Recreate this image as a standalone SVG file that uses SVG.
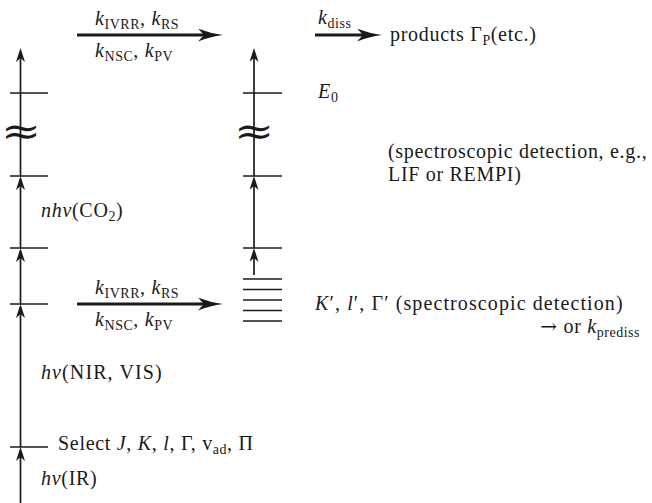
<svg xmlns="http://www.w3.org/2000/svg" width="652" height="503" viewBox="0 0 652 503">
  <style>
    text { font-family: "Liberation Serif", "DejaVu Serif", serif; font-size: 20px; letter-spacing: 0.7px; fill: #1a1a1a; }
    .i { font-style: italic; }
    .sub { font-size: 14px; letter-spacing: 0.5px; }
    .arr { font-family: "DejaVu Serif", serif; }
    .wide { letter-spacing: 1.1px; }
    .level { stroke: #1a1a1a; stroke-width: 1.7; fill: none; }
    .rung { stroke: #1a1a1a; stroke-width: 1.7; fill: none; marker-end: url(#tip); }
    .rate { stroke: #1a1a1a; stroke-width: 3; fill: none; marker-end: url(#bigtip); }
    .gap { font-family: "DejaVu Serif", serif; font-size: 29px; letter-spacing: 0; text-anchor: middle; }
  </style>
  <defs>
    <marker id="tip" viewBox="0 0 14 9" refX="8" refY="4.5" markerWidth="14" markerHeight="9" markerUnits="userSpaceOnUse" orient="auto">
      <path d="M0,0 L14,4.5 L0,9 L4,4.5 Z" fill="#1a1a1a"/>
    </marker>
    <marker id="bigtip" viewBox="0 0 25 13" refX="11" refY="6.5" markerWidth="25" markerHeight="13" markerUnits="userSpaceOnUse" orient="auto">
      <path d="M0,0 Q12,5 25,6.5 Q12,8 0,13 L6,6.5 Z" fill="#1a1a1a"/>
    </marker>
  </defs>

  <!-- left ladder: ground state up through the pumped levels -->
  <g id="left-ladder">
    <line class="level" x1="10" y1="93" x2="48" y2="93"/>
    <line class="level" x1="10" y1="176" x2="48" y2="176"/>
    <line class="level" x1="10" y1="248" x2="48" y2="248"/>
    <line class="level" x1="10" y1="304" x2="48" y2="304"/>
    <line class="level" x1="10" y1="447" x2="48" y2="447"/>
    <text class="gap" transform="translate(21,144) scale(1.65,1.3)">≈</text>
  </g>

  <!-- middle ladder: relaxed states and the dense bath -->
  <g id="mid-ladder">
    <line class="level" x1="243" y1="93" x2="282" y2="93"/>
    <line class="level" x1="243" y1="176" x2="282" y2="176"/>
    <line class="level" x1="243" y1="248" x2="282" y2="248"/>
    <text class="gap" transform="translate(254,144) scale(1.65,1.3)">≈</text>
  </g>

  <g id="bath-levels">
    <line class="level" x1="243" y1="279" x2="282" y2="279"/>
    <line class="level" x1="243" y1="289.5" x2="282" y2="289.5"/>
    <line class="level" x1="243" y1="300" x2="282" y2="300"/>
    <line class="level" x1="243" y1="310.5" x2="282" y2="310.5"/>
    <line class="level" x1="243" y1="321" x2="282" y2="321"/>
  </g>

  <g id="connectors">
    <!-- left vertical excitation steps -->
    <line class="rung" x1="20.5" y1="503" x2="20.5" y2="453"/>
    <line class="rung" x1="20.5" y1="447" x2="20.5" y2="310"/>
    <line class="rung" x1="20.5" y1="304" x2="20.5" y2="254"/>
    <line class="rung" x1="20.5" y1="248" x2="20.5" y2="182"/>
    <line class="rung" x1="20.5" y1="176" x2="20.5" y2="54"/>
    <!-- middle vertical excitation steps -->
    <line class="rung" x1="254" y1="275" x2="254" y2="254"/>
    <line class="rung" x1="254" y1="248" x2="254" y2="182"/>
    <line class="rung" x1="254" y1="176" x2="254" y2="54"/>
    <!-- relaxation and dissociation rates -->
    <line class="rate" x1="77" y1="35" x2="209" y2="35"/>
    <line class="rate" x1="77" y1="304" x2="209" y2="304"/>
    <line class="rate" x1="315" y1="35" x2="368" y2="35"/>
  </g>

  <g id="labels">
    <text x="95" y="25"><tspan class="i">k</tspan><tspan class="sub" dy="4">IVRR</tspan><tspan dy="-4">, </tspan><tspan class="i">k</tspan><tspan class="sub" dy="4">RS</tspan></text>
    <text x="95" y="57"><tspan class="i">k</tspan><tspan class="sub" dy="4">NSC</tspan><tspan dy="-4">, </tspan><tspan class="i">k</tspan><tspan class="sub" dy="4">PV</tspan></text>
    <text x="95" y="294"><tspan class="i">k</tspan><tspan class="sub" dy="4">IVRR</tspan><tspan dy="-4">, </tspan><tspan class="i">k</tspan><tspan class="sub" dy="4">RS</tspan></text>
    <text x="95" y="326"><tspan class="i">k</tspan><tspan class="sub" dy="4">NSC</tspan><tspan dy="-4">, </tspan><tspan class="i">k</tspan><tspan class="sub" dy="4">PV</tspan></text>

    <text x="318" y="24"><tspan class="i">k</tspan><tspan class="sub" dy="4">diss</tspan></text>
    <text x="390" y="41">products Γ<tspan class="sub" dy="4">P</tspan><tspan dy="-4">(etc.)</tspan></text>
    <text x="318" y="98"><tspan class="i">E</tspan><tspan class="sub" dy="4">0</tspan></text>
    <text x="388" y="158">(spectroscopic detection, e.g.,</text>
    <text x="388" y="181">LIF or REMPI)</text>
    <text class="wide" x="315" y="310"><tspan class="i">K</tspan>′, <tspan class="i">l</tspan>′, Γ′ (spectroscopic detection)</text>
    <text x="640" y="333" text-anchor="end"><tspan class="arr">→</tspan> or <tspan class="i">k</tspan><tspan class="sub" dy="4">prediss</tspan></text>

    <text x="41" y="217"><tspan class="i">nhν</tspan>(CO<tspan class="sub" dy="4">2</tspan><tspan dy="-4">)</tspan></text>
    <text class="wide" x="41" y="379"><tspan class="i">hν</tspan>(NIR, VIS)</text>
    <text x="58" y="450">Select <tspan class="i">J</tspan>, <tspan class="i">K</tspan>, <tspan class="i">l</tspan>, Γ, v<tspan class="sub" dy="4">ad</tspan><tspan dy="-4">, Π</tspan></text>
    <text x="41" y="485"><tspan class="i">hν</tspan>(IR)</text>
  </g>
</svg>
